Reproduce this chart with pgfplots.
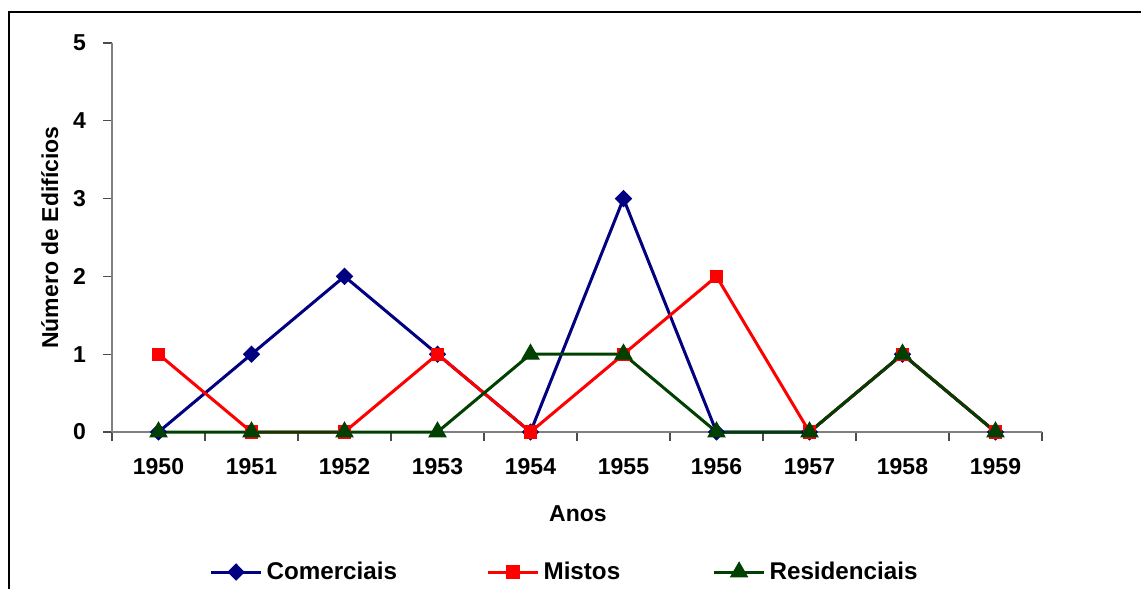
\documentclass[border=0pt]{standalone}
\usepackage{fontspec}
\setmainfont{Liberation Sans}
\usepackage{pgfplots}
\pgfplotsset{compat=1.18}
\definecolor{cnavy}{RGB}{0,0,128}
\definecolor{cred}{RGB}{255,0,0}
\definecolor{cgreen}{RGB}{0,64,0}
\definecolor{axgray}{RGB}{128,128,128}
\begin{document}
\begin{tikzpicture}
\useasboundingbox (0,0) rectangle (570.5pt,-294.5pt);
\draw[line width=0.6pt] (4.5pt,-294.5pt) -- (4.5pt,-6pt) -- (570.5pt,-6pt);
\begin{axis}[
  at={(56pt,-216pt)}, anchor=south west,
  scale only axis, width=465pt, height=194.5pt,
  xmin=-0.5, xmax=9.5, ymin=0, ymax=5,
  axis x line=bottom, axis y line=left,
  axis line style={-, draw=axgray, line width=0.7pt},
  xtick={0,...,9},
  xticklabels={1950,1951,1952,1953,1954,1955,1956,1957,1958,1959},
  major x tick style={draw=none},
  minor xtick={-0.5,0.5,1.5,2.5,3.5,4.5,5.5,6.5,7.5,8.5,9.5},
  ytick={0,1,2,3,4,5},
  tick align=outside,
  major tick length=4.5pt, minor tick length=4.5pt,
  tick style={draw=black!70, line width=0.6pt},
  /pgf/number format/assume math mode=true,
  tick label style={font=\fontsize{11.5}{13.8}\selectfont\bfseries},
  xticklabel style={yshift=-5pt},
  yticklabel style={xshift=-5pt},
  label style={font=\fontsize{11.5}{13.8}\selectfont\bfseries},
  xlabel={Anos},
  ylabel={Número de Edifícios},
  xlabel style={at={(axis description cs:0.501,-0.211)}, anchor=center},
  ylabel style={at={(axis description cs:-0.067,0.5)}, anchor=center},
  clip=false,
  legend columns=3,
  legend style={at={(0.1045,-0.36)}, anchor=west, draw=none, fill=none,
    inner sep=0pt, font=\fontsize{12.1}{14.5}\selectfont\bfseries,
    /tikz/every even column/.append style={column sep=0pt}},
  legend image code/.code={%
    \draw[#1, mark repeat=2, mark phase=2] plot coordinates {(0pt,0pt)(12.5pt,0pt)(25pt,0pt)};},
]
\addplot[cnavy, line width=1.5pt, mark=diamond*, mark size=4pt, mark options={fill=cnavy, draw=cnavy, solid, line width=0.5pt, xscale=1.33}]
  coordinates {(0,0)(1,1)(2,2)(3,1)(4,0)(5,3)(6,0)(7,0)(8,1)(9,0)};
\addlegendentry{\makebox[108pt][l]{Comerciais}}
\addplot[cred, line width=1.5pt, mark=square*, mark size=3.1pt, mark options={fill=cred, draw=cred, solid, line width=0.5pt}]
  coordinates {(0,1)(1,0)(2,0)(3,1)(4,0)(5,1)(6,2)(7,0)(8,1)(9,0)};
\addlegendentry{\makebox[82.5pt][l]{Mistos}}
\addplot[cgreen, line width=1.5pt, mark=triangle*, mark size=4.9pt, mark options={fill=cgreen, draw=cgreen, solid, line width=0.5pt}]
  coordinates {(0,0)(1,0)(2,0)(3,0)(4,1)(5,1)(6,0)(7,0)(8,1)(9,0)};
\addlegendentry{Residenciais}
\end{axis}
\end{tikzpicture}
\end{document}
